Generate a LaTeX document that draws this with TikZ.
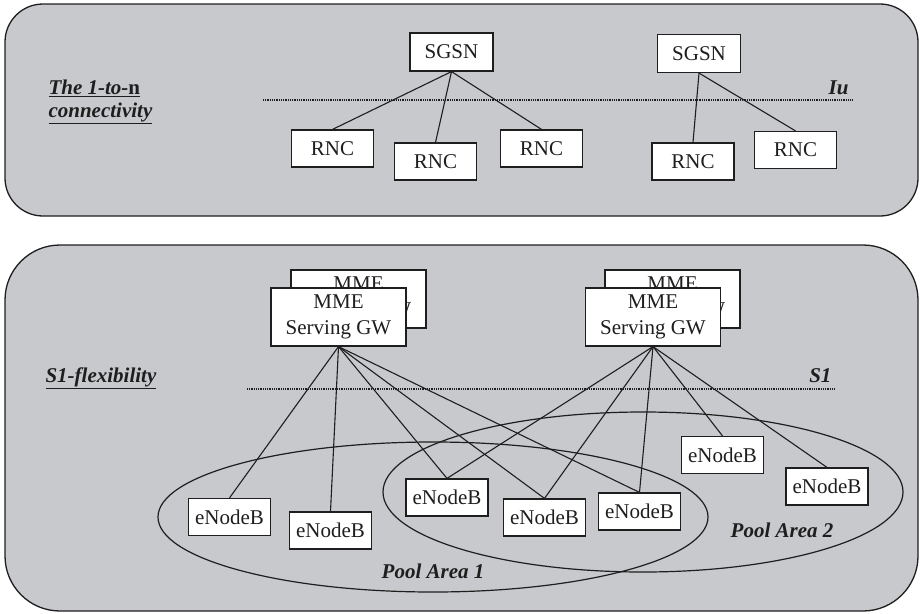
\documentclass[tikz,border=0pt]{standalone}
\usepackage{fontspec}
\setmainfont{Liberation Serif}
\definecolor{panelgray}{RGB}{200,201,204}
\definecolor{ink}{RGB}{30,30,30}
\begin{document}
\begin{tikzpicture}[x=1pt,y=-1pt,
  every node/.style={font=\fontsize{21}{26}\selectfont, text=ink},
  panel/.style={draw=ink, line width=1.3pt, fill=panelgray},
  netbox/.style={draw=ink, line width=1.2pt, fill=white, minimum width=82pt, minimum height=37pt, inner sep=0pt},
  mmebox/.style={draw=ink, line width=1.2pt, fill=white, minimum width=135pt, minimum height=58pt, inner sep=0pt, align=center, font=\fontsize{21}{26}\selectfont},
  link/.style={draw=ink, line width=1.1pt},
  ifline/.style={draw=ink, line width=1.4pt, dash pattern=on 1pt off 0.8pt},
  pool/.style={draw=ink, line width=1.2pt},
  lbl/.style={font=\fontsize{21}{23}\selectfont\bfseries\itshape}
]
\useasboundingbox (0,0) rectangle (920,613);
% panels
\draw[panel, rounded corners=38pt] (5,4) rectangle (918,216);
\draw[panel, rounded corners=55pt] (5,245) rectangle (918,611);

% ---------- top panel ----------
\node[lbl, anchor=west, align=left] (lab1) at (45,102)
  {\underline{\textit{The 1-to-}\textup{n}}\\\underline{connectivity}};
\coordinate (iuA) at (263,100);
\coordinate (iuB) at (852,100);
\draw[ifline] (iuA) -- (iuB);
\node[lbl, anchor=base east] (iu) at (852,94) {Iu};

\node[netbox, minimum width=83pt, minimum height=38pt] (sg1) at (451.5,52) {SGSN};
\node[netbox, minimum width=83pt, minimum height=38pt] (sg2) at (699,53.5) {SGSN};
\node[netbox] (r1) at (332.5,148.5) {RNC};
\node[netbox] (r2) at (435.5,161.5) {RNC};
\node[netbox] (r3) at (541.5,148.5) {RNC};
\node[netbox] (r4) at (693,161.5) {RNC};
\node[netbox] (r5) at (795.5,150) {RNC};
\draw[link] (sg1.south) -- (r1.north);
\draw[link] (sg1.south) -- (r2.north);
\draw[link] (sg1.south) -- (r3.north);
\draw[link] (sg2.south) -- (r4.north);
\draw[link] (sg2.south) -- (r5.north);

% ---------- bottom panel ----------
\node[lbl, anchor=base west] (lab2) at (42,382) {\underline{S1-flexibility}};
\coordinate (s1A) at (247,389);
\coordinate (s1B) at (835,389);
\draw[ifline] (s1A) -- (s1B);
\node[lbl, anchor=base east] (s1) at (835,382) {S1};

% pool areas
\coordinate (p1c) at (433,517);
\coordinate (p2c) at (643,492);
\draw[pool] (p1c) ellipse [x radius=275pt, y radius=75pt];
\draw[pool] (p2c) ellipse [x radius=260pt, y radius=80pt];
\node[lbl, anchor=base] (pl1) at (433,578) {Pool Area 1};
\node[lbl, anchor=base] (pl2) at (782,537) {Pool Area 2};

% MME boxes (a second one partly hidden behind each)
\node[mmebox] (m1b) at (358.5,299) {MME\\Serving GW};
\node[mmebox] (m1) at (338.5,317) {MME\\Serving GW};
\node[mmebox] (m2b) at (672.5,299) {MME\\Serving GW};
\node[mmebox] (m2) at (653,317) {MME\\Serving GW};

% eNodeBs
\node[netbox] (e1) at (229.5,517) {eNodeB};
\node[netbox] (e2) at (330.5,530.5) {eNodeB};
\node[netbox] (e3) at (447,497.5) {eNodeB};
\node[netbox] (e4) at (544.5,517.5) {eNodeB};
\node[netbox] (e5) at (639.5,511.5) {eNodeB};
\node[netbox] (e6) at (722.5,455) {eNodeB};
\node[netbox] (e7) at (827,486.5) {eNodeB};

\foreach \e in {e1,e2,e3,e4,e5} \draw[link] (m1.south) -- (\e.north);
\foreach \e in {e3,e4,e5,e6,e7} \draw[link] (m2.south) -- (\e.north);
\end{tikzpicture}
\end{document}
